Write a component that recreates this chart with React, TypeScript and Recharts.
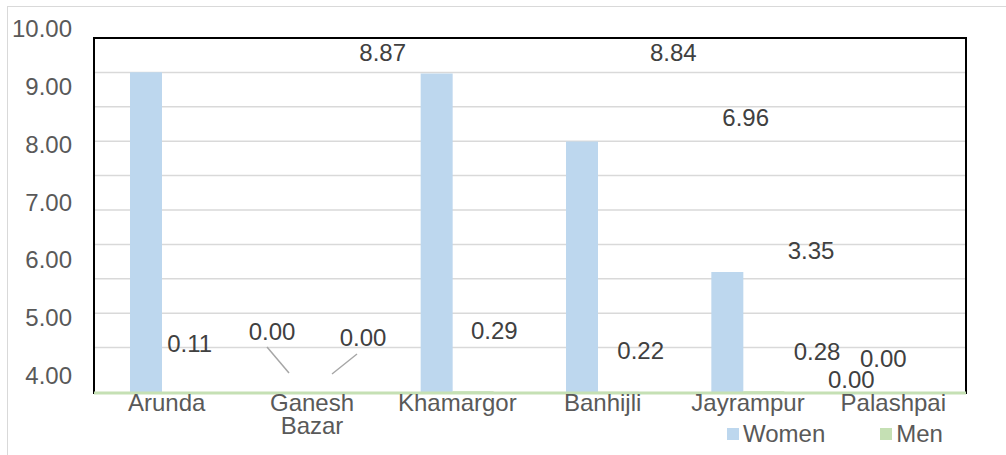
import React from 'react';
import { ComposedChart, Bar, Line, XAxis, YAxis, CartesianGrid, ReferenceArea, Legend } from 'recharts';

// ---------- data ----------
const CATEGORIES = ['Arunda', 'Ganesh Bazar', 'Khamargor', 'Banhijli', 'Jayrampur', 'Palashpai'];
const WOMEN = [8.87, 0.0, 8.84, 6.96, 3.35, 0.0];
const MEN = [0.11, 0.0, 0.29, 0.22, 0.28, 0.0];
const LEFT_TICK_LABELS = [4, 5, 6, 7, 8, 9, 10];
const GRID_VALUES = [1, 2, 3, 4, 5, 6, 7, 8, 9];

const data = CATEGORIES.map((name, i) => ({ name, women: WOMEN[i], men: MEN[i] }));

// ---------- style ----------
const FONT = '"Liberation Sans", Arial, Helvetica, sans-serif';
const WOMEN_COLOR = '#bdd7ee';
const MEN_COLOR = '#c5e0b4';
const AXIS_TEXT = '#595959';
const LABEL_TEXT = '#404040';
const FONT_SIZE = 24;

// label placement (offsets from the category centre / value point), purely presentational
type Pos = { dx: number; dy: number; leader?: [number, number, number, number] };
const WOMEN_LABEL_POS: Pos[] = [
  { dx: 216, dy: -20 },
  { dx: -40, dy: -62, leader: [-5, 16, 17, 42] },
  { dx: 216, dy: -21 },
  { dx: 143, dy: -24 },
  { dx: 63, dy: -21 },
  { dx: -42, dy: -14 },
];
const MEN_LABEL_POS: Pos[] = [
  { dx: 23, dy: -49 },
  { dx: 51, dy: -56, leader: [-6, 17, -31, 37] },
  { dx: 37, dy: -61 },
  { dx: 38, dy: -41 },
  { dx: 69, dy: -40 },
  { dx: -10, dy: -35 },
];

const makeLabelDot = (pos: Pos[], key: string) => (props: any) => {
  const { cx, cy, index, payload } = props;
  const p = pos[index];
  if (!p || cx == null || cy == null) return <g key={`${key}-${index}`} />;
  const x = cx + p.dx;
  const y = cy + p.dy;
  const v = payload ? payload[key] : props.value;
  return (
    <g key={`${key}-${index}`}>
      <text x={x} y={y + 8.5} textAnchor="middle" fontFamily={FONT} fontSize={FONT_SIZE} fill={LABEL_TEXT}>
        {Number(v).toFixed(2)}
      </text>
      {p.leader && (
        <line
          x1={x + p.leader[0]}
          y1={y + p.leader[1]}
          x2={x + p.leader[2]}
          y2={y + p.leader[3]}
          stroke="#a6a6a6"
          strokeWidth={1.5}
        />
      )}
    </g>
  );
};

const LeftTick = (props: any) => {
  const { x, y, payload } = props;
  return (
    <text x={x} y={y + 8.5} textAnchor="end" fontFamily={FONT} fontSize={FONT_SIZE} fill={AXIS_TEXT}>
      {Number(payload.value).toFixed(2)}
    </text>
  );
};

const BottomTick = (props: any) => {
  const { x, y, payload } = props;
  const words = String(payload.value).split(' ');
  return (
    <text x={x} y={y + 18} textAnchor="middle" fontFamily={FONT} fontSize={FONT_SIZE} fill={AXIS_TEXT}>
      {words.map((wd, i) => (
        <tspan key={i} x={x} dy={i === 0 ? 0 : 23}>
          {wd}
        </tspan>
      ))}
    </text>
  );
};

const LegendContent = () => (
  <div
    style={{
      display: 'flex',
      alignItems: 'center',
      fontFamily: FONT,
      fontSize: FONT_SIZE,
      lineHeight: '24px',
      color: AXIS_TEXT,
      whiteSpace: 'nowrap',
    }}
  >
    <span style={{ display: 'inline-block', width: 12, height: 12, background: WOMEN_COLOR, marginRight: 4 }} />
    <span style={{ marginRight: 55 }}>Women</span>
    <span style={{ display: 'inline-block', width: 12, height: 12, background: MEN_COLOR, marginRight: 4 }} />
    <span>Men</span>
  </div>
);

export default function App() {
  return (
    <div
      style={{
        position: 'absolute',
        left: 7,
        top: 6,
        width: 998,
        height: 448,
        borderTop: '1px solid #d9d9d9',
        borderLeft: '1px solid #d9d9d9',
        background: '#fff',
        overflow: 'hidden',
      }}
    >
      <style>{`body{overflow:hidden}`}</style>
      <ComposedChart
        width={998}
        height={448}
        data={data}
        margin={{ top: 13, right: 40, bottom: 0, left: 0 }}
        barGap={0}
      >
        <CartesianGrid
          yAxisId="grid"
          vertical={false}
          horizontalValues={GRID_VALUES}
          syncWithTicks
          stroke="#d9d9d9"
          strokeWidth={1.5}
        />
        <ReferenceArea yAxisId="grid" y1={-0.32} y2={10} fill="none" stroke="#000" strokeWidth={2} />
        <XAxis
          dataKey="name"
          interval={0}
          height={62}
          tickSize={0}
          tickMargin={0}
          tickLine={false}
          axisLine={{ stroke: MEN_COLOR, strokeWidth: 3 }}
          tick={<BottomTick />}
        />
        <YAxis
          yAxisId="lbl"
          type="number"
          orientation="left"
          width={86}
          domain={[3.688, 10.156]}
          ticks={LEFT_TICK_LABELS}
          allowDataOverflow
          interval={0}
          tickSize={0}
          tickMargin={22}
          tickLine={false}
          axisLine={false}
          tick={<LeftTick />}
        />
        <YAxis
          yAxisId="grid"
          type="number"
          orientation="right"
          width={0}
          hide
          domain={[-0.32, 10.523]}
          ticks={GRID_VALUES}
          allowDataOverflow
        />
        <YAxis yAxisId="main" type="number" orientation="right" width={0} hide domain={[0, 10.318]} />
        <YAxis yAxisId="men" type="number" orientation="right" width={0} hide domain={[0, 60]} />
        <Bar yAxisId="main" dataKey="women" name="Women" fill={WOMEN_COLOR} barSize={32} isAnimationActive={false} />
        <Bar yAxisId="men" dataKey="men" name="Men" fill={MEN_COLOR} barSize={41} isAnimationActive={false} />
        <Line
          yAxisId="main"
          dataKey="women"
          stroke="none"
          legendType="none"
          dot={makeLabelDot(WOMEN_LABEL_POS, 'women')}
          activeDot={false}
          isAnimationActive={false}
        />
        <Line
          yAxisId="men"
          dataKey="men"
          stroke="none"
          legendType="none"
          dot={makeLabelDot(MEN_LABEL_POS, 'men')}
          activeDot={false}
          isAnimationActive={false}
        />
        <Legend
          layout="horizontal"
          verticalAlign="middle"
          align="center"
          content={<LegendContent />}
          wrapperStyle={{ left: 719, top: 415, width: 'auto', height: 'auto' }}
        />
      </ComposedChart>
    </div>
  );
}
